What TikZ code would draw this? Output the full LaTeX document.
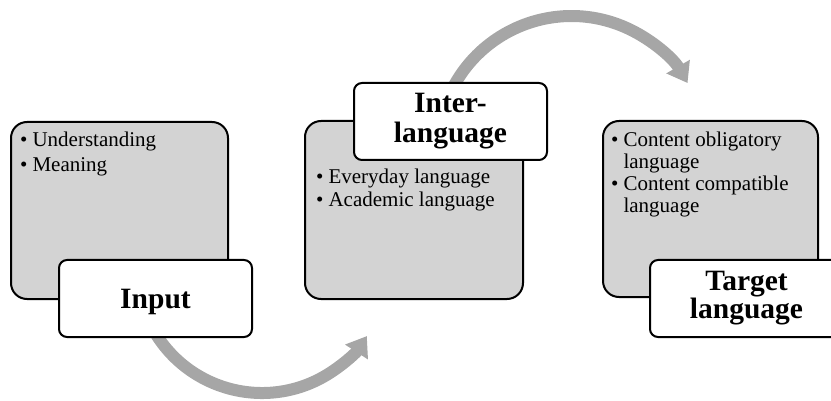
\documentclass[tikz,border=0pt]{standalone}
\usepackage{fontspec}
\setmainfont{Liberation Serif}
\usetikzlibrary{arrows.meta}
\definecolor{boxgray}{RGB}{211,211,211}
\definecolor{arrowgray}{RGB}{166,166,166}
\begin{document}
\begin{tikzpicture}[x=1pt,y=-1pt,
  graybox/.style={draw=black, fill=boxgray, line width=2pt, rounded corners=16pt, minimum width=217pt, minimum height=177pt, inner sep=0pt},
  titlebox/.style={draw=black, fill=white, line width=2pt, rounded corners=8pt, minimum width=193pt, minimum height=77pt, inner sep=0pt, align=center, font=\fontsize{29.5}{30}\selectfont\bfseries},
  bullets/.style={anchor=base west, inner sep=0pt, font=\fontsize{21}{25}\selectfont},
  flow/.style={draw=arrowgray, line width=12pt, -{Triangle[length=19pt,width=26pt]}},
]
\useasboundingbox (0,0) rectangle (831,401);
% arrows
\coordinate (s1) at (153.75,330.5);
\coordinate (s2) at (450.05,93.4);
\draw[flow] (s1) arc[start angle=150, end angle=33, radius=125];
\draw[flow] (s2) arc[start angle=-155, end angle=-30, radius=134];
% gray boxes
\node[graybox] (g1) at (119.5,210.5) {};
\node[graybox, minimum width=218pt, minimum height=178pt] (g2) at (414,210) {};
\node[graybox, minimum width=215pt, minimum height=176pt] (g3) at (710.5,209) {};
% bullet texts
\node[bullets] (t1) at (20,147) {\begin{tabular}[t]{@{}l@{\hspace{5pt}}l@{}}\textbullet & Understanding\\ \textbullet & Meaning\end{tabular}};
\node[bullets, font=\fontsize{21}{23}\selectfont] (t2) at (316,184) {\begin{tabular}[t]{@{}l@{\hspace{5pt}}l@{}}\textbullet & Everyday language\\ \textbullet & Academic language\end{tabular}};
\node[bullets, font=\fontsize{21}{22}\selectfont] (t3) at (611,147) {\begin{tabular}[t]{@{}l@{\hspace{5pt}}l@{}}\textbullet & Content obligatory\\ & language\\ \textbullet & Content compatible\\ & language\end{tabular}};
% title boxes
\node[titlebox, text depth=0pt] (input) at (155.5,298.5) {Input};
\node[titlebox] (inter) at (450.5,121.5) {Inter-\\language};
\node[titlebox, font=\fontsize{29.5}{28}\selectfont\bfseries] (target) at (746.5,298.5) {Target\\language};
\end{tikzpicture}
\end{document}
